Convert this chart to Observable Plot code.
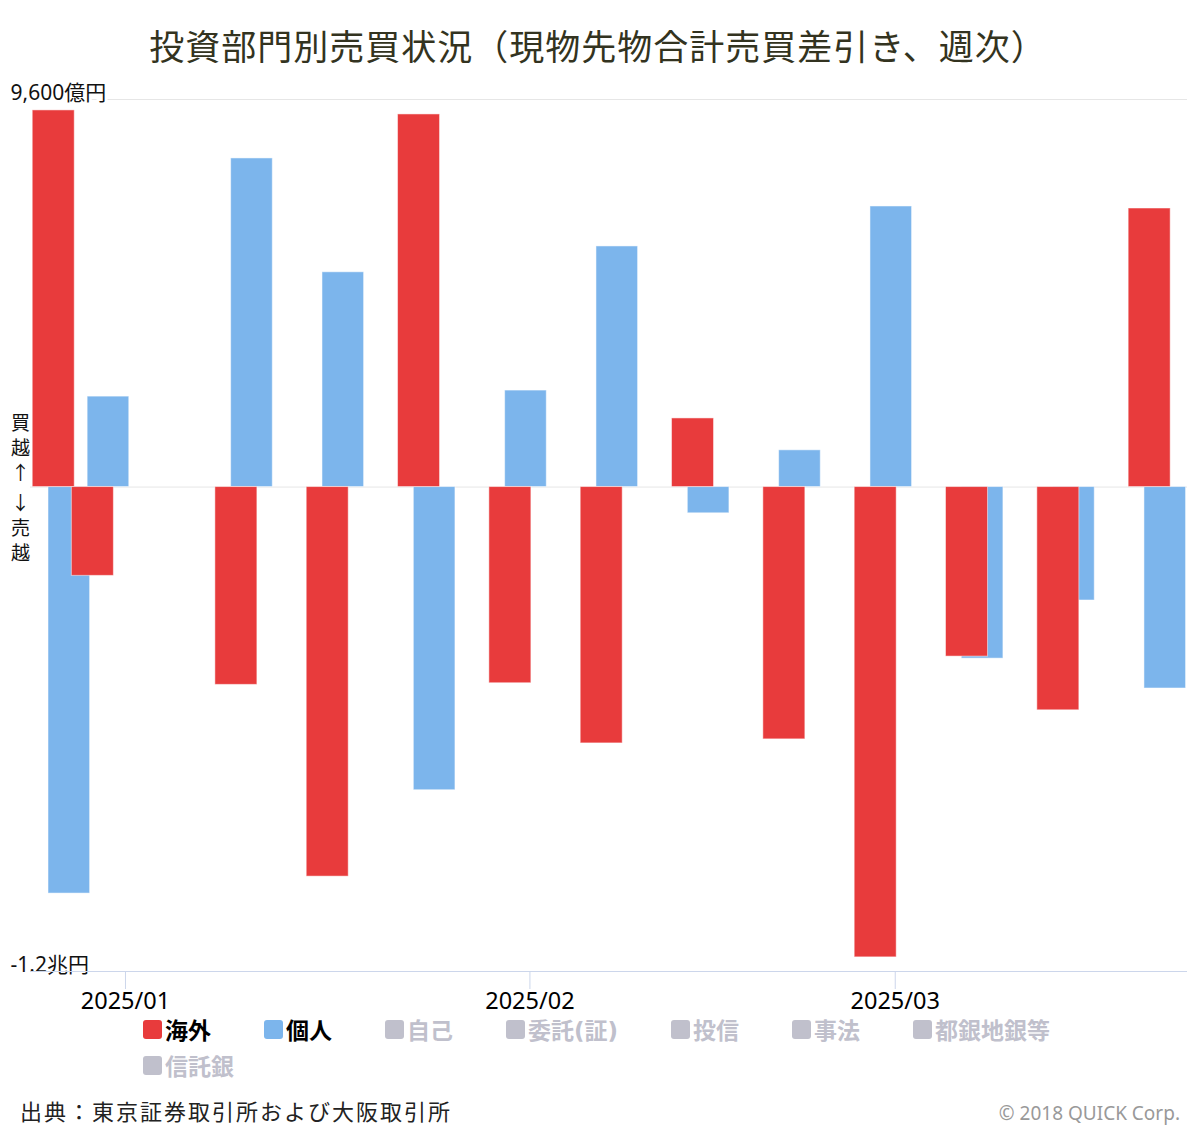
<!DOCTYPE html>
<html>
<head>
<meta charset="utf-8">
<script src="https://cdn.jsdelivr.net/npm/d3@7"></script>
<script src="https://cdn.jsdelivr.net/npm/@observablehq/plot@0.6"></script>
<style>
  body { margin: 0; background: #fff; }
  #wrap { position: relative; width: 1200px; height: 1130px; overflow: hidden; background: #fff;
          font-family: "Noto Sans", "Noto Sans CJK JP", sans-serif; }
  #title { position: absolute; top: 0; left: 0; width: 1196px; height: 93px; line-height: 93px; z-index: 2;
           text-align: center; font-size: 35px; letter-spacing: 1px; color: #333320; white-space: nowrap; }
  #chart { position: absolute; top: 66px; left: 0; z-index: 1; }
  #legend { position: absolute; left: 143px; top: 1011px; width: 980px; display: flex; flex-wrap: wrap;
            column-gap: 53px; row-gap: 0; }
  .item { display: flex; align-items: center; height: 36px; font-weight: bold; font-size: 23px;
          font-family: "DejaVu Sans", "Noto Sans CJK JP", sans-serif; white-space: nowrap; }
  .sw { width: 19px; height: 19px; border-radius: 3px; margin-right: 3px; }
  #source { position: absolute; left: 20px; top: 1095px; line-height: 30px; font-size: 22px; letter-spacing: 2px;
            color: #222; font-family: "Noto Sans CJK JP", sans-serif; white-space: nowrap; }
  #copy { position: absolute; right: 20px; top: 1100px; line-height: 26px; font-size: 19px; color: #999; }
</style>
</head>
<body>
<div id="wrap">
  <div id="chart"></div>
  <div id="title">投資部門別売買状況（現物先物合計売買差引き、週次）</div>
  <div id="legend"></div>
  <div id="source">出典：東京証券取引所および大阪取引所</div>
  <div id="copy">© 2018 QUICK Corp.</div>
</div>
<script>
// ---- data (億円) ----
const weeks = ["2024-12-27","2024-12-30","2025-01-10","2025-01-17","2025-01-24","2025-01-31",
               "2025-02-07","2025-02-14","2025-02-21","2025-02-28","2025-03-07","2025-03-14","2025-03-21"];
const overseas   = [9330, -2200, -4900, -9650, 9230, -4860, -6350, 1700, -6250, -11650, -4200, -5530, 6900];
const individual = [-10070, 2240, 8140, 5320, -7510, 2390, 5960, -650, 910, 6950, -4250, -2810, -4990];
const yTicks = [9600, -12000];
const yTickLabels = ["9,600億円", "-1.2兆円"];
const xTicks = ["2025-01-01", "2025-02-01", "2025-03-01"];
const legendNames = ["海外", "個人", "自己", "委託(証)", "投信", "事法", "都銀地銀等", "信託銀"];
const legendActive = [true, true, false, false, false, false, false, false];

const RED = "#e83b3c", BLUE = "#7cb5ec", HIDDEN = "#c0c0cc";
const legendColors = [RED, BLUE];

const DAY = 864e5;
const rows = weeks.map((w, i) => ({date: new Date(w), overseas: overseas[i], individual: individual[i]}));
const shift = (d, days) => new Date(+d + days * DAY);

const chart = Plot.plot({
  width: 1200, height: 949,
  marginLeft: 30, marginRight: 13, marginTop: 33, marginBottom: 44,
  style: {fontFamily: '"Noto Sans", "Noto Sans CJK JP", sans-serif', background: "transparent", color: "black", overflow: "visible"},
  x: {type: "utc", domain: [new Date("2024-12-24T17:17Z"), new Date("2025-03-23T09:36Z")]},
  y: {domain: [-12000, 9600], axis: null},
  marks: [
    Plot.ruleY([yTicks[0], 0], {stroke: "#e6e6e6", strokeWidth: 1}),
    Plot.text(yTicks, {y: d => d, text: (d, i) => yTickLabels[i], frameAnchor: "left", textAnchor: "start",
      lineAnchor: "bottom", dx: -20, fontSize: 21, fill: "#111", stroke: "white", strokeWidth: 6}),
    Plot.text([0], {y: d => d, text: () => "買\n越\n↑", frameAnchor: "left", textAnchor: "middle",
      lineAnchor: "bottom", lineHeight: 1.316, dx: -10, dy: -6.6, fontSize: 19, fill: "#111",
      fontFamily: "Noto Sans CJK JP"}),
    Plot.text([0], {y: d => d, text: () => "↓\n売\n越", frameAnchor: "left", textAnchor: "middle",
      lineAnchor: "top", lineHeight: 1.316, dx: -10, dy: 5, fontSize: 19, fill: "#111",
      fontFamily: "Noto Sans CJK JP"}),
    Plot.rect(rows, {x1: d => shift(d.date, -0.9), x2: d => shift(d.date, 2.29), y1: 0, y2: "individual",
      fill: BLUE, stroke: "white", strokeOpacity: 0.5, strokeWidth: 1}),
    Plot.rect(rows, {x1: d => shift(d.date, -2.11), x2: d => shift(d.date, 1.11), y1: 0, y2: "overseas",
      fill: RED, stroke: "white", strokeOpacity: 0.5, strokeWidth: 1}),
    Plot.ruleY([yTicks[1]], {stroke: "#ccd6eb", strokeWidth: 1}),
    Plot.axisX(xTicks.map(d => new Date(d)), {tickFormat: d3.utcFormat("%Y/%m"), tickSize: 18, tickPadding: 3,
      stroke: "#ccd6eb", fontSize: 23.5, fill: "black"})
  ]
});
document.getElementById("chart").appendChild(chart);

const legend = document.getElementById("legend");
legendNames.forEach((name, i) => {
  const item = document.createElement("div");
  item.className = "item";
  const on = legendActive[i];
  const sw = document.createElement("span");
  sw.className = "sw";
  sw.style.background = on ? legendColors[i] : HIDDEN;
  const tx = document.createElement("span");
  tx.textContent = name;
  tx.style.color = on ? "#000" : HIDDEN;
  item.appendChild(sw); item.appendChild(tx);
  legend.appendChild(item);
});
</script>
</body>
</html>
